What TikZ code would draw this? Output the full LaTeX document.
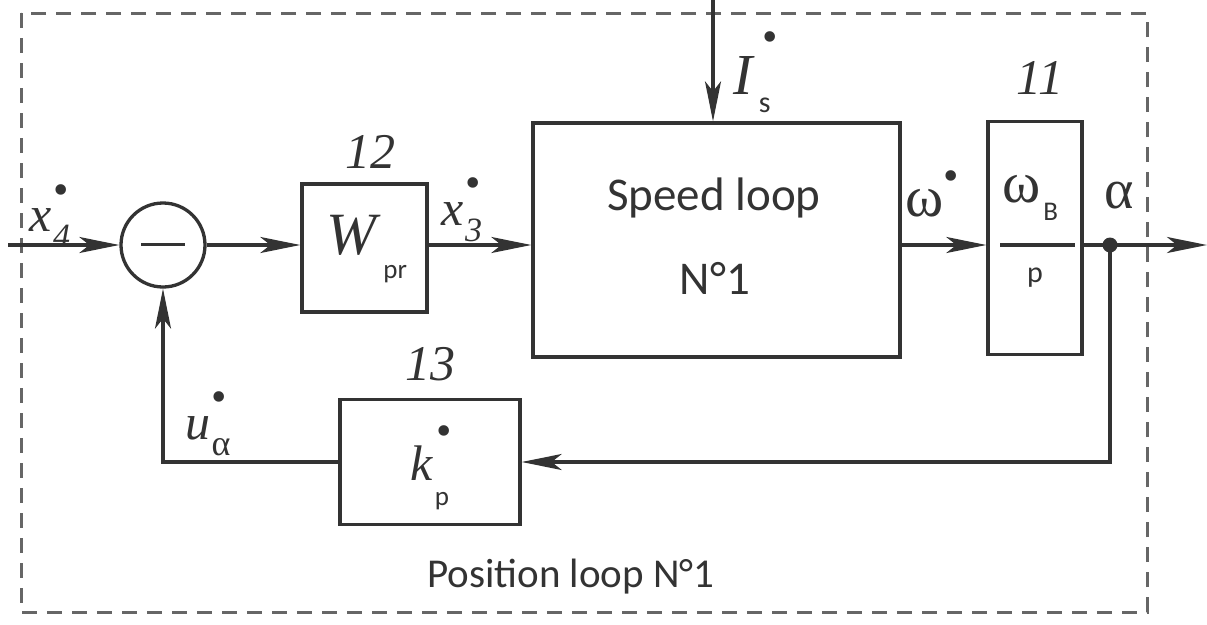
\documentclass[tikz,border=0pt]{standalone}
\usepackage{fontspec}
\setmainfont{Liberation Serif}
\newfontfamily\carl{Carlito}
\usetikzlibrary{arrows.meta}
\definecolor{ink}{HTML}{333333}
\definecolor{frame}{HTML}{666666}
\newcommand\dotsup[1]{\raisebox{#1}{\fontsize{44}{44}\selectfont •}}
\newcommand\sub[1]{\raisebox{-0.32em}{#1}}
\begin{document}
\begin{tikzpicture}[x=1pt,y=-1pt,
  every node/.style={text=ink},
  blk/.style={draw=ink, line width=3.3pt, inner sep=0pt},
  conn/.style={draw=ink, line width=3.3pt},
  arr/.style={conn, -{Stealth[length=40pt,width=16pt,inset=10pt]}},
  serif/.style={font=\fontsize{50}{54}\selectfont},
  sanslbl/.style={font=\carl\fontsize{47}{52}\selectfont},
  num/.style={font=\fontsize{50}{54}\selectfont\itshape},
]
\useasboundingbox (0,0) rectangle (1207,624);
\fill[white] (0,0) rectangle (1207,624);
% dashed frame
\draw[frame, line width=3pt, dash pattern=on 15pt off 10pt] (21,13) rectangle (1147,612);

% blocks
\node[circle, blk, minimum size=84pt] (sum) at (163,245) {\color{ink}\rule[0.28ex]{44pt}{3.3pt}};
\node[blk, minimum width=125pt, minimum height=128pt] (wpr) at (364.5,248) {};
\node[font=\fontsize{60}{62}\selectfont] (wlbl) at (367,249) {\textit{W}\kern2pt\raisebox{-0.4em}{\carl\fontsize{27}{27}\selectfont pr}};
\node[blk, minimum width=367pt, minimum height=234pt] (speed) at (716.5,240) {};
\node[sanslbl] (sl1) at (714,198) {Speed loop};
\node[sanslbl] (sl2) at (715,278) {N°1};
\node[blk, minimum width=94pt, minimum height=233pt] (b11) at (1035,238) {};
\node[blk, minimum width=180pt, minimum height=125pt] (b13) at (430,462) {};
\node[serif] (klbl) at (430,468) {\textit{k}\kern1pt\rlap{\kern2pt\dotsup{0.7em}}\raisebox{-0.5em}{\carl\fontsize{27}{27}\selectfont p}};

% numbers
\node[num] (n12) at (370,152) {12};
\node[num] (n13) at (430,364) {13};
\node[num] (n11) at (1040,78) {11};

% coordinates
\coordinate (in) at (8,245);
\coordinate (dot) at (1110,245);
\coordinate (out) at (1207,245);
\coordinate (istop) at (713,0);

% connectors
\draw[arr] (in) -- (sum.west);
\draw[arr] (sum.east) -- (wpr.west |- sum.east);
\draw[arr] (wpr.east |- sum) -- (speed.west |- sum);
\draw[arr] (speed.east |- sum) -- (b11.west |- sum);
\draw[conn] (b11.east |- sum) -- (dot);
\draw[arr] (dot) -- (out);
\draw[arr] (dot) |- (b13.east);
\draw[arr] (b13.west) -| (sum.south);
\draw[arr] (istop) -- (istop |- speed.north);
\fill[ink] (dot) circle (7.5pt);

% fraction in block 11
\draw[conn] ([xshift=14pt]b11.west |- sum) -- ([xshift=-9pt]b11.east |- sum);
\node[font=\fontsize{58}{60}\selectfont] (wb) at (1030,198) {ω\kern3pt\raisebox{-0.3em}{\carl\fontsize{27}{27}\selectfont B}};
\node[font=\carl\fontsize{30}{32}\selectfont] (pp) at (1035,278) {p};

% signal labels
\node[serif] (x4) at (50,216) {\textit{x}\kern1pt\rlap{\dotsup{0.55em}}\sub{\fontsize{34}{34}\selectfont\textit{4}}};
\node[serif] (x3) at (462,210) {\textit{x}\kern1pt\rlap{\dotsup{0.55em}}\sub{\fontsize{34}{34}\selectfont\textit{3}}};
\node[font=\fontsize{58}{60}\selectfont] (is) at (752,72) {\textit{I}\kern4pt\rlap{\kern4pt\dotsup{0.75em}}\raisebox{-0.3em}{\carl\fontsize{30}{30}\selectfont s}};
\node[font=\fontsize{58}{60}\selectfont] (om) at (932,194) {ω\dotsup{0.45em}};
\node[font=\fontsize{56}{58}\selectfont] (al) at (1119,196) {α};
\node[serif] (ua) at (208,424) {\textit{u}\kern1pt\rlap{\dotsup{0.55em}}\sub{\fontsize{36}{36}\selectfont α}};

\node[font=\carl\fontsize{41}{46}\selectfont] (pos) at (571,577) {Position loop N°1};
\end{tikzpicture}
\end{document}
